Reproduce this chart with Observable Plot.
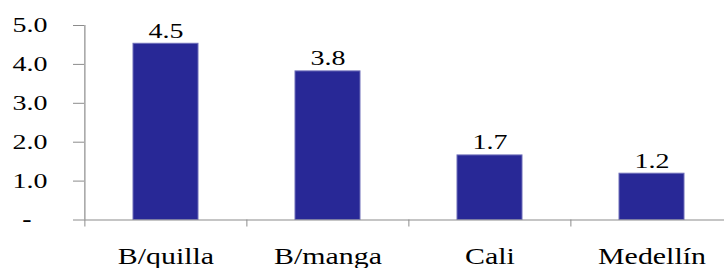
<!DOCTYPE html>
<html>
<head>
<meta charset="utf-8">
<script src="https://cdn.jsdelivr.net/npm/d3@7"></script>
<script src="https://cdn.jsdelivr.net/npm/@observablehq/plot@0.6"></script>
<style>
  html, body { margin: 0; padding: 0; background: #fff; }
  #chart svg { display: block; }
  #chart svg, #chart svg text { font-family: "Liberation Serif", "Times New Roman", serif; }
</style>
</head>
<body>
<div id="chart"></div>
<script>
const cities = ["B/quilla", "B/manga", "Cali", "Medellín"];
const values = [4.53, 3.82, 1.66, 1.19];
const yTicks = [1, 2, 3, 4, 5];

const data = cities.map((c, i) => ({city: c, value: values[i]}));

const axisColor = "#8c8c8c";
const step = (733 - 84) / cities.length;

const chart = Plot.plot({
  width: 724,
  height: 268,
  marginTop: 25,
  marginBottom: 48.5,
  marginLeft: 84,
  marginRight: 0,
  style: "font-family: 'Liberation Serif', 'Times New Roman', serif; background: #fff; color: #000;",
  x: {domain: cities, range: [84, 733], paddingInner: 0.6, paddingOuter: 0.3, label: null},
  y: {domain: [0, 5], label: null},
  marks: [
    Plot.barY(data, {x: "city", y: "value", fill: "#282896", stroke: "#6e6eb9", strokeWidth: 1}),
    Plot.ruleY([0], {stroke: axisColor, strokeWidth: 1.2}),
    Plot.ruleX([cities[0]], {y1: 0, y2: 5, dx: -step / 2, stroke: axisColor, strokeWidth: 1.2}),
    Plot.axisY(yTicks, {anchor: "left", tickSize: 11, tickPadding: 26, stroke: axisColor, fill: "#000",
      fontSize: 20, fontFamily: "Liberation Serif", tickFormat: d => d.toFixed(1)}),
    Plot.axisY([0], {anchor: "left", tickSize: 11, tickPadding: 42, stroke: axisColor, fill: "#000",
      fontSize: 20, fontWeight: "bold", fontFamily: "Liberation Serif", tickFormat: () => "-"}),
    Plot.axisX({anchor: "bottom", tickSize: 7, stroke: axisColor, text: null, dx: -step / 2}),
    Plot.axisX({anchor: "bottom", tickSize: 0, tickPadding: 28, fill: "#000", fontSize: 23,
      fontFamily: "Liberation Serif"}),
    Plot.text(data, {x: "city", y: "value", text: d => d.value.toFixed(1), lineAnchor: "bottom",
      dy: -6, fontSize: 20, fontFamily: "Liberation Serif", fill: "#000"})
  ]
});

document.getElementById("chart").appendChild(chart);

// horizontally stretched lettering, as in the reference
chart.querySelectorAll("text").forEach(t => {
  const fs = parseFloat(t.closest("[font-size]")?.getAttribute("font-size") || t.getAttribute("font-size") || 20);
  const s = fs > 21 ? 1.3 : 1.4;
  const x = parseFloat(t.getAttribute("x") || 0);
  const tr = t.getAttribute("transform") || "";
  t.setAttribute("transform", `${tr} translate(${x},0) scale(${s},1) translate(${-x},0)`);
});
</script>
</body>
</html>
